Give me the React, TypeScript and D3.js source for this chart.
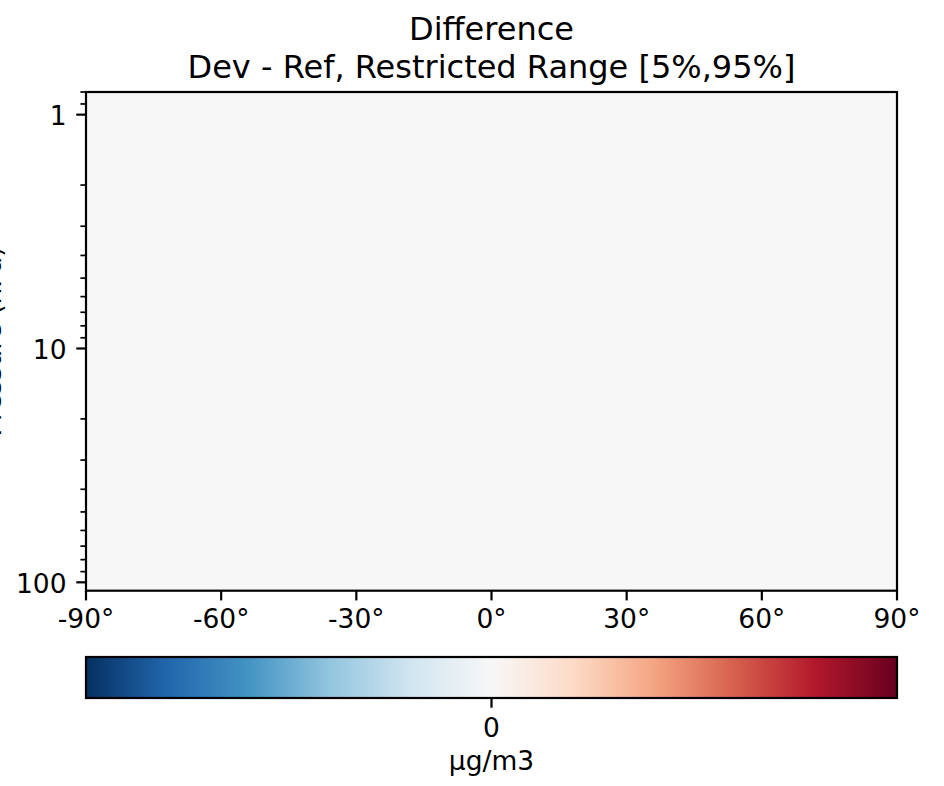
import React from "react";
import * as d3 from "d3";

// ---- data ----
const LATITUDE_EDGES = [-90, 90];
const PRESSURE_EDGES = [0.8, 108.6];
const CELL_VALUES = [[0]];
const X_TICKS = [-90, -60, -30, 0, 30, 60, 90];
const Y_MAJOR_TICKS = [1, 10, 100];
const CBAR_TICKS = [0];
const CBAR_DOMAIN = [-1, 1];
const RDBU_R = [
  "#053061", "#2166ac", "#4393c3", "#92c5de", "#d1e5f0", "#f7f7f7",
  "#fddbc7", "#f4a582", "#d6604d", "#b2182b", "#67001f",
];
const TITLE_LINES = ["Difference", "Dev - Ref, Restricted Range [5%,95%]"];
const Y_LABEL = "Pressure (hPa)";
const CBAR_LABEL = "μg/m3";

const W = 944;
const H = 786;
const PL = 86, PR = 897, PT = 92, PB = 590.7;
const CB_T = 657, CB_B = 698;
const FONT = "DejaVu Sans, sans-serif";
const TICK_FS = 26.5;

export default function App() {
  const x = d3.scaleLinear().domain([LATITUDE_EDGES[0], LATITUDE_EDGES[LATITUDE_EDGES.length - 1]]).range([PL, PR]);
  const y = d3.scaleLog().domain([PRESSURE_EDGES[0], PRESSURE_EDGES[PRESSURE_EDGES.length - 1]]).range([PT, PB]);
  const cx = d3.scaleLinear().domain(CBAR_DOMAIN).range([PL, PR]);
  const color = d3
    .scaleLinear<string>()
    .domain(RDBU_R.map((_, i) => CBAR_DOMAIN[0] + (i / (RDBU_R.length - 1)) * (CBAR_DOMAIN[1] - CBAR_DOMAIN[0])))
    .range(RDBU_R)
    .interpolate(d3.interpolateRgb);

  const [y0, y1] = y.domain();
  const minorTicks: number[] = [];
  for (let e = -1; e <= 2; e++) {
    for (let m = 2; m <= 9; m++) {
      const v = m * Math.pow(10, e);
      if (v >= y0 - 1e-9 && v <= y1 + 1e-9) minorTicks.push(v);
    }
  }

  const cells: { x0: number; x1: number; p0: number; p1: number; v: number }[] = [];
  CELL_VALUES.forEach((row, j) =>
    row.forEach((v, i) =>
      cells.push({ x0: LATITUDE_EDGES[i], x1: LATITUDE_EDGES[i + 1], p0: PRESSURE_EDGES[j], p1: PRESSURE_EDGES[j + 1], v })
    )
  );

  return (
    <svg
      width={W}
      height={H}
      style={{ position: "absolute", left: 0, top: 0, background: "#ffffff" }}
      fontFamily={FONT}
    >
      <defs>
        <linearGradient id="cbar" x1="0" x2="1" y1="0" y2="0">
          {RDBU_R.map((c, i) => (
            <stop key={i} offset={i / (RDBU_R.length - 1)} stopColor={c} />
          ))}
        </linearGradient>
      </defs>
      <rect x={0} y={0} width={W} height={H} fill="#ffffff" />

      {/* title */}
      {TITLE_LINES.map((t, i) => (
        <text key={i} x={(PL + PR) / 2} y={40 + i * 37.5} textAnchor="middle" fontSize={32} fill="#000">
          {t}
        </text>
      ))}

      {/* cells */}
      {cells.map((c, i) => (
        <rect
          key={i}
          x={x(c.x0)}
          y={y(c.p0)}
          width={x(c.x1) - x(c.x0)}
          height={y(c.p1) - y(c.p0)}
          fill={color(c.v)}
        />
      ))}

      {/* y ticks */}
      {minorTicks.map((v) => (
        <line key={"m" + v} x1={PL - 5.6} x2={PL} y1={y(v)} y2={y(v)} stroke="#000" strokeWidth={1.7} />
      ))}
      {Y_MAJOR_TICKS.map((v) => (
        <g key={"M" + v}>
          <line x1={PL - 9.7} x2={PL} y1={y(v)} y2={y(v)} stroke="#000" strokeWidth={2.2} />
          <text x={PL - 19.5} y={y(v) + 10.3} textAnchor="end" fontSize={TICK_FS} fill="#000">
            {v}
          </text>
        </g>
      ))}

      {/* x ticks */}
      {X_TICKS.map((v) => (
        <g key={"x" + v}>
          <line x1={x(v)} x2={x(v)} y1={PB} y2={PB + 9.7} stroke="#000" strokeWidth={2.2} />
          <text x={x(v)} y={627.5} textAnchor="middle" fontSize={TICK_FS} fill="#000">
            {`${v}°`}
          </text>
        </g>
      ))}

      {/* frame */}
      <rect x={PL} y={PT} width={PR - PL} height={PB - PT} fill="none" stroke="#000" strokeWidth={2.2} />

      {/* y label (clipped at left edge) */}
      <text
        transform={`translate(0.5, ${(PT + PB) / 2}) rotate(-90)`}
        textAnchor="middle"
        fontSize={TICK_FS}
        fill="#000"
      >
        {Y_LABEL}
      </text>

      {/* colorbar */}
      <rect x={PL} y={CB_T} width={PR - PL} height={CB_B - CB_T} fill="url(#cbar)" />
      <rect x={PL} y={CB_T} width={PR - PL} height={CB_B - CB_T} fill="none" stroke="#000" strokeWidth={2.2} />
      {CBAR_TICKS.map((v) => (
        <g key={"c" + v}>
          <line x1={cx(v)} x2={cx(v)} y1={CB_B} y2={CB_B + 9.7} stroke="#000" strokeWidth={2.2} />
          <text x={cx(v)} y={737} textAnchor="middle" fontSize={TICK_FS} fill="#000">
            {v}
          </text>
        </g>
      ))}
      <text x={(PL + PR) / 2} y={770} textAnchor="middle" fontSize={TICK_FS} fill="#000">
        {CBAR_LABEL}
      </text>
    </svg>
  );
}
